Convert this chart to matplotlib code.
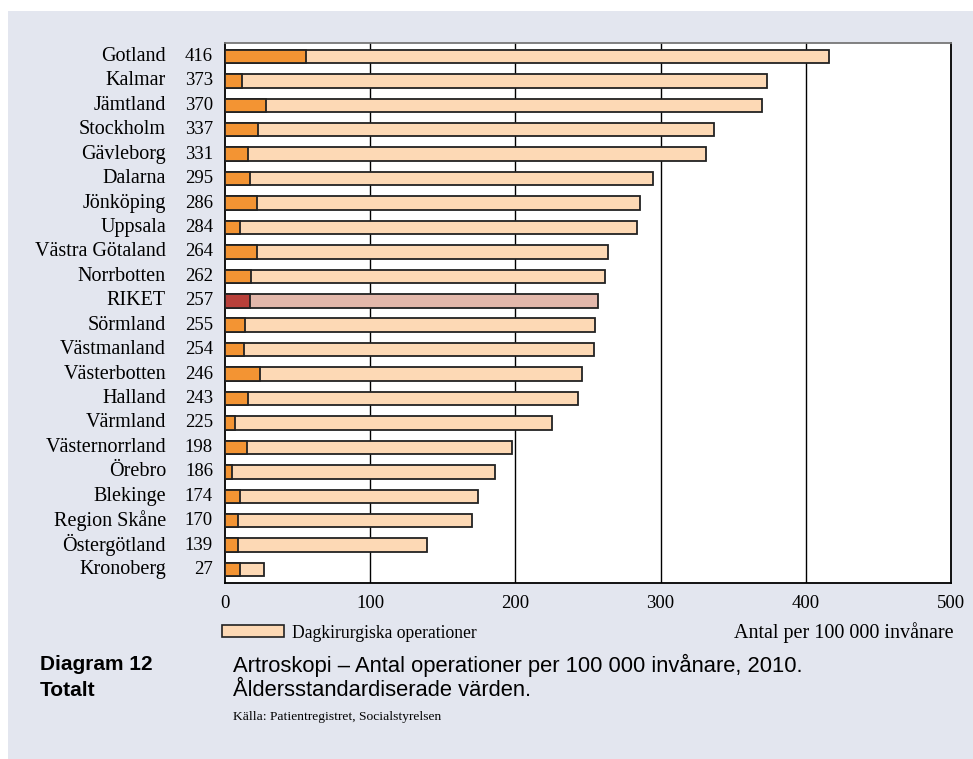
import matplotlib
matplotlib.use("Agg")
import matplotlib.pyplot as plt
from matplotlib.patches import Rectangle
import matplotlib.transforms as mtransforms

# Artroskopi per 100 000 invanare, 2010 (aldersstandardiserat)
regions = ["Gotland", "Kalmar", "Jämtland", "Stockholm", "Gävleborg", "Dalarna",
           "Jönköping", "Uppsala", "Västra Götaland", "Norrbotten", "RIKET",
           "Sörmland", "Västmanland", "Västerbotten", "Halland", "Värmland",
           "Västernorrland", "Örebro", "Blekinge", "Region Skåne",
           "Östergötland", "Kronoberg"]
totals = [416, 373, 370, 337, 331, 295, 286, 284, 264, 262, 257,
          255, 254, 246, 243, 225, 198, 186, 174, 170, 139, 27]
inner = [56, 12, 28, 23, 16, 17, 22, 10, 22, 18, 17,
         14, 13, 24, 16, 7, 15, 5, 10, 9, 9, 10]
xticks = [0, 100, 200, 300, 400, 500]

BG = "#e3e6ef"
LIGHT = "#fdd9b5"
DARK = "#f39433"
LIGHT_R = "#e3b8ab"
DARK_R = "#b8403a"

serif = ["Liberation Serif", "DejaVu Serif"]
sans = ["Liberation Sans", "DejaVu Sans"]

W, H = 973, 759
fig = plt.figure(figsize=(W / 100, H / 100), dpi=100)
fig.patch.set_facecolor("white")
fig.patches.append(Rectangle((8 / W, 0), 1 - 8 / W, 1 - 11 / H,
                             transform=fig.transFigure, facecolor=BG,
                             edgecolor="none", zorder=-10))

def px(x0, y0, x1, y1):
    return [x0 / W, 1 - y1 / H, (x1 - x0) / W, (y1 - y0) / H]

ax = fig.add_axes(px(225, 43, 951, 583))
ax.set_zorder(2)
ax.set_facecolor("white")

n = len(regions)
ypos = list(range(n))
light_cols = [LIGHT_R if r == "RIKET" else LIGHT for r in regions]
dark_cols = [DARK_R if r == "RIKET" else DARK for r in regions]

for x in xticks[1:-1]:
    ax.axvline(x, color="black", lw=1.0, zorder=1)

ax.barh(ypos, totals, height=0.55, color=light_cols, edgecolor="#222222",
        lw=1.3, zorder=2)
ax.barh(ypos, inner, height=0.55, color=dark_cols, edgecolor="#222222",
        lw=1.3, zorder=3)

ax.set_xlim(0, 500)
ax.set_ylim(n - 0.45, -0.55)
ax.set_yticks([])
ax.set_xticks(xticks)
ax.set_xticklabels([str(t) for t in xticks], fontfamily=serif, fontsize=13.5)
ax.tick_params(axis="x", length=0, pad=9)

for side in ["left", "right", "bottom"]:
    ax.spines[side].set_color("black")
    ax.spines[side].set_linewidth(1.3)
ax.spines["top"].set_color("#777777")
ax.spines["top"].set_linewidth(1.3)

tr = mtransforms.blended_transform_factory(fig.transFigure, ax.transData)
for y, name, val in zip(ypos, regions, totals):
    ax.text(166 / W, y, name, transform=tr, ha="right", va="center",
            fontfamily=serif, fontsize=14.5, clip_on=False)
    ax.text(213 / W, y, str(val), transform=tr, ha="right", va="center",
            fontfamily=serif, fontsize=13.5, clip_on=False)

# legend box and unit label
fig.patches.append(Rectangle((222 / W, 1 - 637 / H), 62 / W, 12 / H,
                             transform=fig.transFigure, facecolor=LIGHT,
                             edgecolor="#222222", lw=1.2, zorder=3))
fig.text(292 / W, 1 - 633 / H, "Dagkirurgiska operationer", ha="left",
         va="center", fontfamily=serif, fontsize=12.7)
fig.text(954 / W, 1 - 633 / H, "Antal per 100 000 invånare", ha="right",
         va="center", fontfamily=serif, fontsize=14.5)

# caption
fig.text(40 / W, 1 - 665 / H, "Diagram 12", ha="left", va="center",
         fontfamily=sans, fontsize=15, fontweight="bold")
fig.text(40 / W, 1 - 690 / H, "Totalt", ha="left", va="center",
         fontfamily=sans, fontsize=15, fontweight="bold")
fig.text(233 / W, 1 - 665 / H,
         "Artroskopi – Antal operationer per 100 000 invånare, 2010.",
         ha="left", va="center", fontfamily=sans, fontsize=15.8)
fig.text(233 / W, 1 - 690 / H, "Åldersstandardiserade värden.",
         ha="left", va="center", fontfamily=sans, fontsize=15.8)
fig.text(233 / W, 1 - 717 / H, "Källa: Patientregistret, Socialstyrelsen",
         ha="left", va="center", fontfamily=serif, fontsize=9.7)

fig.savefig("out.png", dpi=100)
